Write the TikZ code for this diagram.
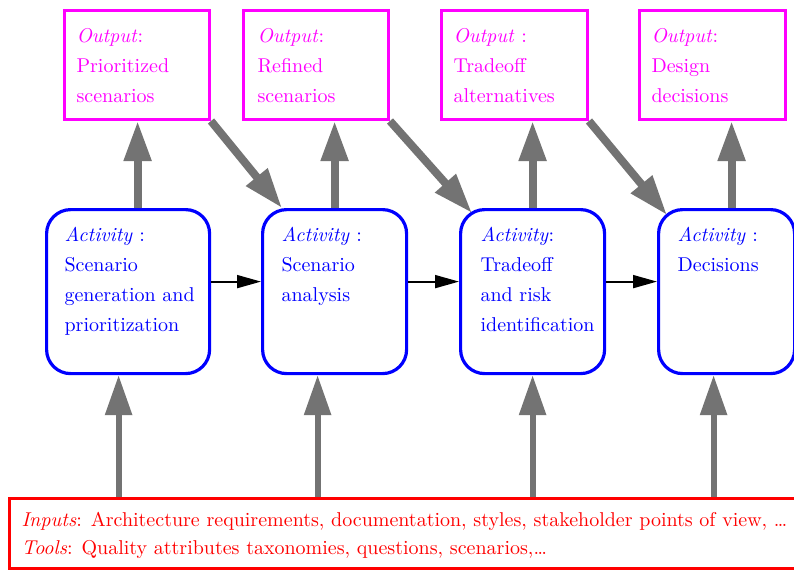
\documentclass[tikz,border=0pt]{standalone}
\usepackage{amsmath}
\usepackage{tikz}
\usetikzlibrary{arrows.meta}

\definecolor{outmag}{RGB}{255,0,255}
\definecolor{actblue}{RGB}{0,0,255}
\definecolor{inred}{RGB}{255,0,0}

\newcommand{\boxtext}[4]{\parbox[t][#2][t]{#1}{\parindent=0pt\leftskip=#3\rightskip=0pt plus 1fil
  \fontsize{10}{15}\selectfont\vspace*{5.3pt}\strut#4}}

\tikzset{
  output/.style={draw=outmag, line width=1.5pt, text=outmag, inner sep=0pt, anchor=north west},
  activity/.style={draw=actblue, line width=1.6pt, rounded corners=12pt, text=actblue, inner sep=0pt, anchor=north west},
  inputs/.style={draw=inred, line width=1.5pt, text=inred, inner sep=0pt, anchor=north west},
  hatch/.style={draw=black!55, line width=4pt, -{Triangle[length=20pt,width=13pt]}},
  feed/.style={hatch, line width=3pt},
  flow/.style={draw=black, line width=0.9pt, -{Triangle[length=12pt,width=6.5pt]}}
}

\begin{document}
\begin{tikzpicture}[x=0.5pt,y=-0.5pt]%[show background grid]
\useasboundingbox (0,0) rectangle (794,569);
\clip (0,0) rectangle (794,569);

\node[output] (out1) at (63,9) {\boxtext{72.5pt}{54.5pt}{6pt}{\emph{Output}:\\Prioritized\\scenarios}};
\node[output] (out2) at (242,9) {\boxtext{72.5pt}{54.5pt}{7pt}{\emph{Output}:\\Refined\\scenarios}};
\node[output] (out3) at (440,9) {\boxtext{73pt}{54.5pt}{6pt}{\emph{Output} :\\Tradeoff\\alternatives}};
\node[output] (out4) at (638,9) {\boxtext{73pt}{54.5pt}{6pt}{\emph{Output}:\\Design\\decisions}};

\node[activity] (act1) at (45,208) {\boxtext{81.5pt}{82pt}{9pt}{\emph{Activity} :\\Scenario\\generation and\\prioritization}};
\node[activity] (act2) at (261,208) {\boxtext{72pt}{82pt}{9.5pt}{\emph{Activity} :\\Scenario\\analysis}};
\node[activity] (act3) at (459,208) {\boxtext{72pt}{82pt}{10pt}{\emph{Activity}:\\Tradeoff\\and risk\\identification}};
\node[activity] (act4) at (657,208) {\boxtext{68pt}{82pt}{9.5pt}{\emph{Activity} :\\Decisions}};

\node[inputs] (inputs) at (8,497) {\parbox[t][35pt][t]{406pt}{\parindent=0pt\leftskip=6pt
  \fontsize{10}{14}\selectfont\vspace*{4.2pt}\strut
  \emph{Inputs}: Architecture requirements, documentation, styles, stakeholder points of view, \dots\\
  \emph{Tools}: Quality attributes taxonomies, questions, scenarios,\dots}};

\draw[flow] ([yshift=5pt]act1.east) -- ([yshift=5pt]act2.west);
\draw[flow] ([yshift=5pt]act2.east) -- ([yshift=5pt]act3.west);
\draw[flow] ([yshift=5pt]act3.east) -- ([yshift=5pt]act4.west);

\draw[hatch] ([xshift=4.75pt]act1.north) -- ([xshift=4.75pt]act1.north |- out1.south);
\draw[hatch] (act2.north) -- (act2.north |- out2.south);
\draw[hatch] (act3.north) -- (act3.north |- out3.south);
\draw[hatch] ([xshift=2.5pt]act4.north) -- ([xshift=2.5pt]act4.north |- out4.south);

\draw[hatch] (out1.south east) -- ([xshift=10.5pt]act2.north west);
\draw[hatch] (out2.south east) -- ([shift={(6.5pt,-2.5pt)}]act3.north west);
\draw[hatch] (out3.south east) -- ([shift={(5pt,-3.5pt)}]act4.north west);

\draw[feed] ([xshift=-4.75pt]act1.south |- inputs.north) -- ([xshift=-4.75pt]act1.south);
\draw[feed] ([xshift=-8.5pt]act2.south |- inputs.north) -- ([xshift=-8.5pt]act2.south);
\draw[feed] (act3.south |- inputs.north) -- (act3.south);
\draw[feed] ([xshift=-6.5pt]act4.south |- inputs.north) -- ([xshift=-6.5pt]act4.south);

\end{tikzpicture}
\end{document}
